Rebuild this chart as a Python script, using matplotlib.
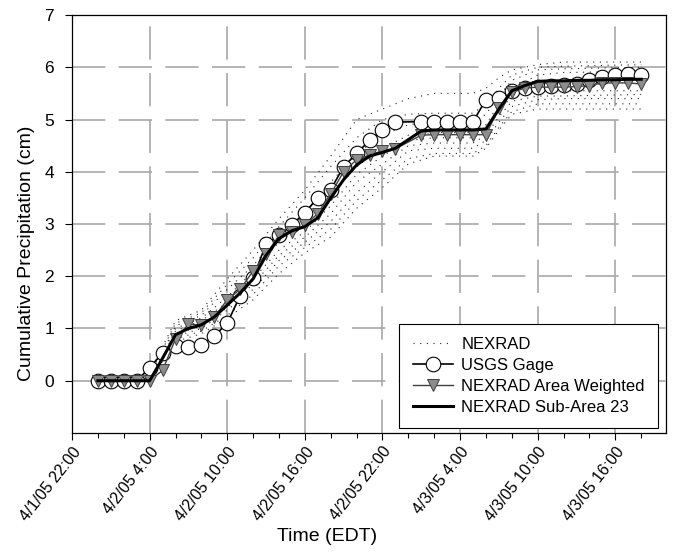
import pandas as pd
import matplotlib
matplotlib.use("Agg")
import matplotlib.pyplot as plt
import matplotlib.dates as mdates
from matplotlib.ticker import FuncFormatter

plt.rcParams['font.family'] = ['Liberation Sans', 'DejaVu Sans']

start = pd.Timestamp("2005-04-01 22:00")
end = pd.Timestamp("2005-04-03 19:55")

# hourly records, hours after 4/1/05 22:00 (no record at hour 26)
obs_hours = [2, 3, 4, 5, 6, 7, 8, 9, 10, 11, 12, 13, 14, 15, 16, 17, 18, 19, 20, 21, 22, 23, 24, 25,
             27, 28, 29, 30, 31, 32, 33, 34, 35, 36, 37, 38, 39, 40, 41, 42, 43, 44]

usgs_gage = [0, 0, 0, 0, 0.25, 0.53, 0.66, 0.65, 0.68, 0.86, 1.1, 1.63, 1.96, 2.62, 2.78, 2.98,
             3.22, 3.5, 3.66, 4.1, 4.35, 4.6, 4.8, 4.95,
             4.96, 4.96, 4.96, 4.96, 4.96, 5.38, 5.42, 5.55, 5.6, 5.63, 5.65, 5.66, 5.68, 5.75,
             5.82, 5.85, 5.87, 5.86]

area_weighted = [0, 0, 0, 0, 0, 0.2, 0.8, 1.08, 1.07, 1.22, 1.55, 1.75, 2.1, 2.42, 2.78, 2.85,
                 2.98, 3.2, 3.58, 4.0, 4.23, 4.32, 4.4, 4.44,
                 4.7, 4.71, 4.71, 4.71, 4.71, 4.71, 5.22, 5.52, 5.6, 5.62, 5.62, 5.62, 5.63, 5.65,
                 5.7, 5.7, 5.7, 5.68]

sub_area_23 = [0, 0, 0, 0, 0, 0.43, 0.88, 1.0, 1.07, 1.22, 1.45, 1.68, 1.95, 2.4, 2.72, 2.87,
               2.95, 3.12, 3.5, 3.85, 4.13, 4.3, 4.37, 4.45,
               4.78, 4.8, 4.8, 4.8, 4.8, 4.82, 5.2, 5.55, 5.65, 5.73, 5.74, 5.74, 5.75, 5.75,
               5.76, 5.76, 5.77, 5.77]

# individual NEXRAD sub-areas, read at a coarser set of hours
nexrad_hours = [2, 6, 8, 10, 12, 14, 16, 18, 20, 22, 24, 26, 28, 31, 32, 33, 34, 36, 38, 44]
nexrad_1 = [0, 0.15, 1.15, 1.35, 1.95, 2.5, 3.1, 3.65, 4.3, 5.0, 5.2, 5.4, 5.5, 5.5, 5.6, 5.8, 5.95, 6.05, 6.1, 6.1]
nexrad_2 = [0, 0.1, 1.1, 1.3, 1.85, 2.35, 2.95, 3.5, 4.1, 4.65, 5.0, 5.1, 5.12, 5.12, 5.3, 5.6, 5.85, 6.0, 6.02, 6.05]
nexrad_3 = [0, 0.05, 1.05, 1.25, 1.75, 2.2, 2.8, 3.2, 3.8, 4.35, 4.7, 4.9, 4.95, 4.95, 5.1, 5.45, 5.75, 5.95, 5.97, 6.0]
nexrad_4 = [0, 0.05, 1.0, 1.2, 1.6, 2.1, 2.65, 3.0, 3.55, 4.1, 4.45, 4.7, 4.75, 4.75, 4.9, 5.3, 5.6, 5.85, 5.9, 5.92]
nexrad_5 = [0, 0.0, 0.95, 1.15, 1.5, 1.95, 2.5, 2.85, 3.35, 3.95, 4.3, 4.6, 4.65, 4.65, 4.8, 5.15, 5.45, 5.55, 5.55, 5.55]
nexrad_6 = [0, 0.0, 0.9, 1.05, 1.4, 1.85, 2.4, 2.75, 3.2, 3.8, 4.15, 4.5, 4.55, 4.55, 4.7, 5.05, 5.35, 5.45, 5.45, 5.48]
nexrad_7 = [0, 0.0, 0.85, 1.0, 1.35, 1.75, 2.3, 2.65, 3.05, 3.6, 4.0, 4.4, 4.45, 4.45, 4.6, 4.95, 5.25, 5.38, 5.4, 5.4]
nexrad_8 = [0, 0.0, 0.8, 0.95, 1.25, 1.65, 2.2, 2.55, 2.9, 3.45, 3.85, 4.25, 4.35, 4.35, 4.5, 4.85, 5.15, 5.3, 5.3, 5.3]
nexrad_9 = [0, 0.0, 0.75, 0.9, 1.2, 1.55, 2.05, 2.45, 2.75, 3.3, 3.7, 4.15, 4.3, 4.3, 4.45, 4.8, 5.1, 5.2, 5.2, 5.2]
nexrad_lines = [nexrad_1, nexrad_2, nexrad_3, nexrad_4, nexrad_5, nexrad_6, nexrad_7, nexrad_8, nexrad_9]

obs_times = start + pd.to_timedelta(obs_hours, unit="h")
nexrad_times = start + pd.to_timedelta(nexrad_hours, unit="h")

fig = plt.figure(figsize=(6.73, 5.52), dpi=100)
ax = fig.add_axes([0.107, 0.2156, 0.8826, 0.7572])

for i, vals in enumerate(nexrad_lines):
    ax.plot(nexrad_times, vals, color="#222222", lw=0.8, linestyle=(0, (1, 5)),
            label="NEXRAD" if i == 0 else None, zorder=2)

ax.plot(obs_times, usgs_gage, color="black", lw=1.2, marker="o", markersize=10.5,
        markerfacecolor="white", markeredgecolor="black", markeredgewidth=0.8,
        label="USGS Gage", zorder=3)
ax.plot(obs_times, area_weighted, color="#404040", lw=1.0, marker="v", markersize=9,
        markerfacecolor="#8c8c8c", markeredgecolor="#404040", markeredgewidth=0.7,
        label="NEXRAD Area Weighted", zorder=4)
ax.plot(obs_times, sub_area_23, color="black", lw=2.2, label="NEXRAD Sub-Area 23", zorder=5)

ax.set_xlim(start, end)
ax.set_ylim(-1, 7)
ax.set_yticks(range(0, 8))

ax.xaxis.set_major_locator(mdates.HourLocator(byhour=[4, 10, 16, 22]))
ax.xaxis.set_minor_locator(mdates.HourLocator(byhour=range(0, 24, 2)))


def fmt_date(x, pos):
    d = mdates.num2date(x)
    return f"{d.month}/{d.day}/{d:%y} {d.hour}:{d:%M}"


ax.xaxis.set_major_formatter(FuncFormatter(fmt_date))

ax.tick_params(axis="both", which="major", direction="out", length=5, width=0.8)
ax.tick_params(axis="x", which="minor", direction="out", length=3.5, width=0.8)
ax.tick_params(axis="x", which="major", pad=3, labelsize=11.5)
ax.tick_params(axis="y", which="major", pad=8, labelsize=12.5)
plt.setp(ax.get_xticklabels(), rotation=52, ha="right", rotation_mode="anchor")

ax.set_axisbelow(True)
ax.grid(True, which="major", color="#a8a8a8", lw=1.2, linestyle=(0, (20, 8)))
for s in ax.spines.values():
    s.set_linewidth(0.9)

ax.set_xlabel("Time (EDT)", fontsize=14)
ax.set_ylabel("Cumulative Precipitation (cm)", fontsize=14)
ax.xaxis.set_label_coords(0.43, -0.228)
ax.yaxis.set_label_coords(-0.062, 0.43)

leg = ax.legend(loc="lower right", bbox_to_anchor=(0.9865, 0.012), borderaxespad=0,
                fontsize=12, fancybox=False, framealpha=1, edgecolor="black",
                handlelength=2.4, handletextpad=0.5, labelspacing=0.35, borderpad=0.8)
leg.get_frame().set_linewidth(0.8)

fig.savefig("out.png", dpi=100)
